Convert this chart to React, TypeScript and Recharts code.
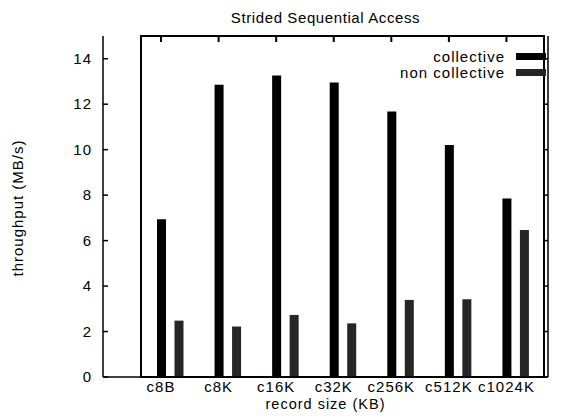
import { BarChart, Bar, XAxis, YAxis, ReferenceArea } from "recharts";

const sizes = ["c8B", "c8K", "c16K", "c32K", "c256K", "c512K", "c1024K"];
const collective = [6.94, 12.86, 13.26, 12.95, 11.68, 10.2, 7.85];
const nonCollective = [2.48, 2.22, 2.73, 2.36, 3.39, 3.42, 6.47];
const yTicks = [0, 2, 4, 6, 8, 10, 12, 14];

const FONT = "'Liberation Sans', Arial, Helvetica, sans-serif";
const SHIFT = 8.75; // collective bar centre sits left of the group centre
const PLOT_TOP = 36;
const NON_FILL = "#262626";

const chartData = sizes.map((s, i) => ({
  name: s,
  collective: collective[i],
  nonCollective: nonCollective[i],
}));

const legendItems = [
  { label: "collective", fill: "#000" },
  { label: "non collective", fill: NON_FILL },
];

// bottom tick: label + inward tick, plus the mirrored tick on the top border
const BottomTick = (p: any) => (
  <g>
    <line x1={p.x - SHIFT} x2={p.x - SHIFT} y1={p.y} y2={p.y - 4} stroke="#000" />
    <line x1={p.x - SHIFT} x2={p.x - SHIFT} y1={PLOT_TOP} y2={PLOT_TOP + 6} stroke="#000" strokeWidth={2} />
    <text x={p.x - SHIFT} y={p.y + 15} textAnchor="middle" fontSize={15} letterSpacing={1} fill="#000" fontFamily={FONT}>
      {p.payload.value}
    </text>
  </g>
);

const LeftTick = (p: any) => (
  <g>
    <line x1={p.x} x2={p.x + 5} y1={p.y} y2={p.y} stroke="#000" strokeWidth={1.5} />
    <text x={p.x - 11} y={p.y + 5} textAnchor="end" fontSize={15} letterSpacing={1} fill="#000" fontFamily={FONT}>
      {p.payload.value}
    </text>
  </g>
);

const RightTick = (p: any) => (
  <line x1={p.x} x2={p.x - 5} y1={p.y} y2={p.y} stroke="#000" strokeWidth={1.5} />
);

// title and legend, drawn in the svg
const TitleAndLegend = () => (
  <g fontFamily={FONT} fontSize={15} fill="#000">
    <text x={325.5} y={23} textAnchor="middle" letterSpacing={0.6}>
      Strided Sequential Access
    </text>
    {legendItems.map((d, i) => (
      <g key={d.label}>
        <text x={505} y={62 + i * 16} textAnchor="end" letterSpacing={1}>
          {d.label}
        </text>
        <rect x={516} y={53 + i * 16} width={30} height={7} fill={d.fill} />
      </g>
    ))}
  </g>
);

export default function App() {
  return (
    <div style={{ position: "absolute", left: 0, top: 0, width: 563, height: 419, background: "#fff" }}>
      <BarChart
        width={563}
        height={419}
        data={chartData}
        margin={{ top: PLOT_TOP, right: 0, bottom: 0, left: 0 }}
        barSize={9}
        barGap={8.5}
      >
        <XAxis
          dataKey="name"
          height={42}
          padding={{ left: 38, right: 4 }}
          axisLine={{ stroke: "#000", strokeWidth: 1.5 }}
          tickLine={false}
          tickSize={0}
          tickMargin={0}
          tick={<BottomTick />}
          interval={0}
          label={{
            value: "record size (KB)",
            content: () => (
              <text x={325.5} y={409} textAnchor="middle" fontSize={14.5} letterSpacing={1} fill="#000" fontFamily={FONT}>
                record size (KB)
              </text>
            ),
          }}
        />
        <YAxis
          width={103}
          domain={[0, 15]}
          ticks={yTicks}
          allowDataOverflow
          axisLine={{ stroke: "#000", strokeWidth: 1.5 }}
          tickLine={false}
          tickSize={0}
          tickMargin={0}
          tick={<LeftTick />}
          interval={0}
          label={{
            value: "throughput (MB/s)",
            content: () => (
              <g>
                <text
                  x={0}
                  y={0}
                  transform="translate(23 208) rotate(-90)"
                  textAnchor="middle"
                  fontSize={15}
                  letterSpacing={1}
                  fill="#000"
                  fontFamily={FONT}
                >
                  throughput (MB/s)
                </text>
                <TitleAndLegend />
              </g>
            ),
          }}
        />
        <YAxis
          yAxisId="right"
          orientation="right"
          width={15}
          domain={[0, 15]}
          ticks={yTicks}
          allowDataOverflow
          axisLine={{ stroke: "#000", strokeWidth: 1.5 }}
          tickLine={false}
          tickSize={0}
          tickMargin={0}
          tick={<RightTick />}
          interval={0}
        />
        {/* plot frame */}
        <ReferenceArea y1={0} y2={15} fill="none" stroke="#000" strokeWidth={2} strokeOpacity={1} ifOverflow="visible" />
        <Bar dataKey="collective" fill="#000" isAnimationActive={false} />
        <Bar dataKey="nonCollective" fill={NON_FILL} isAnimationActive={false} />
      </BarChart>
    </div>
  );
}
